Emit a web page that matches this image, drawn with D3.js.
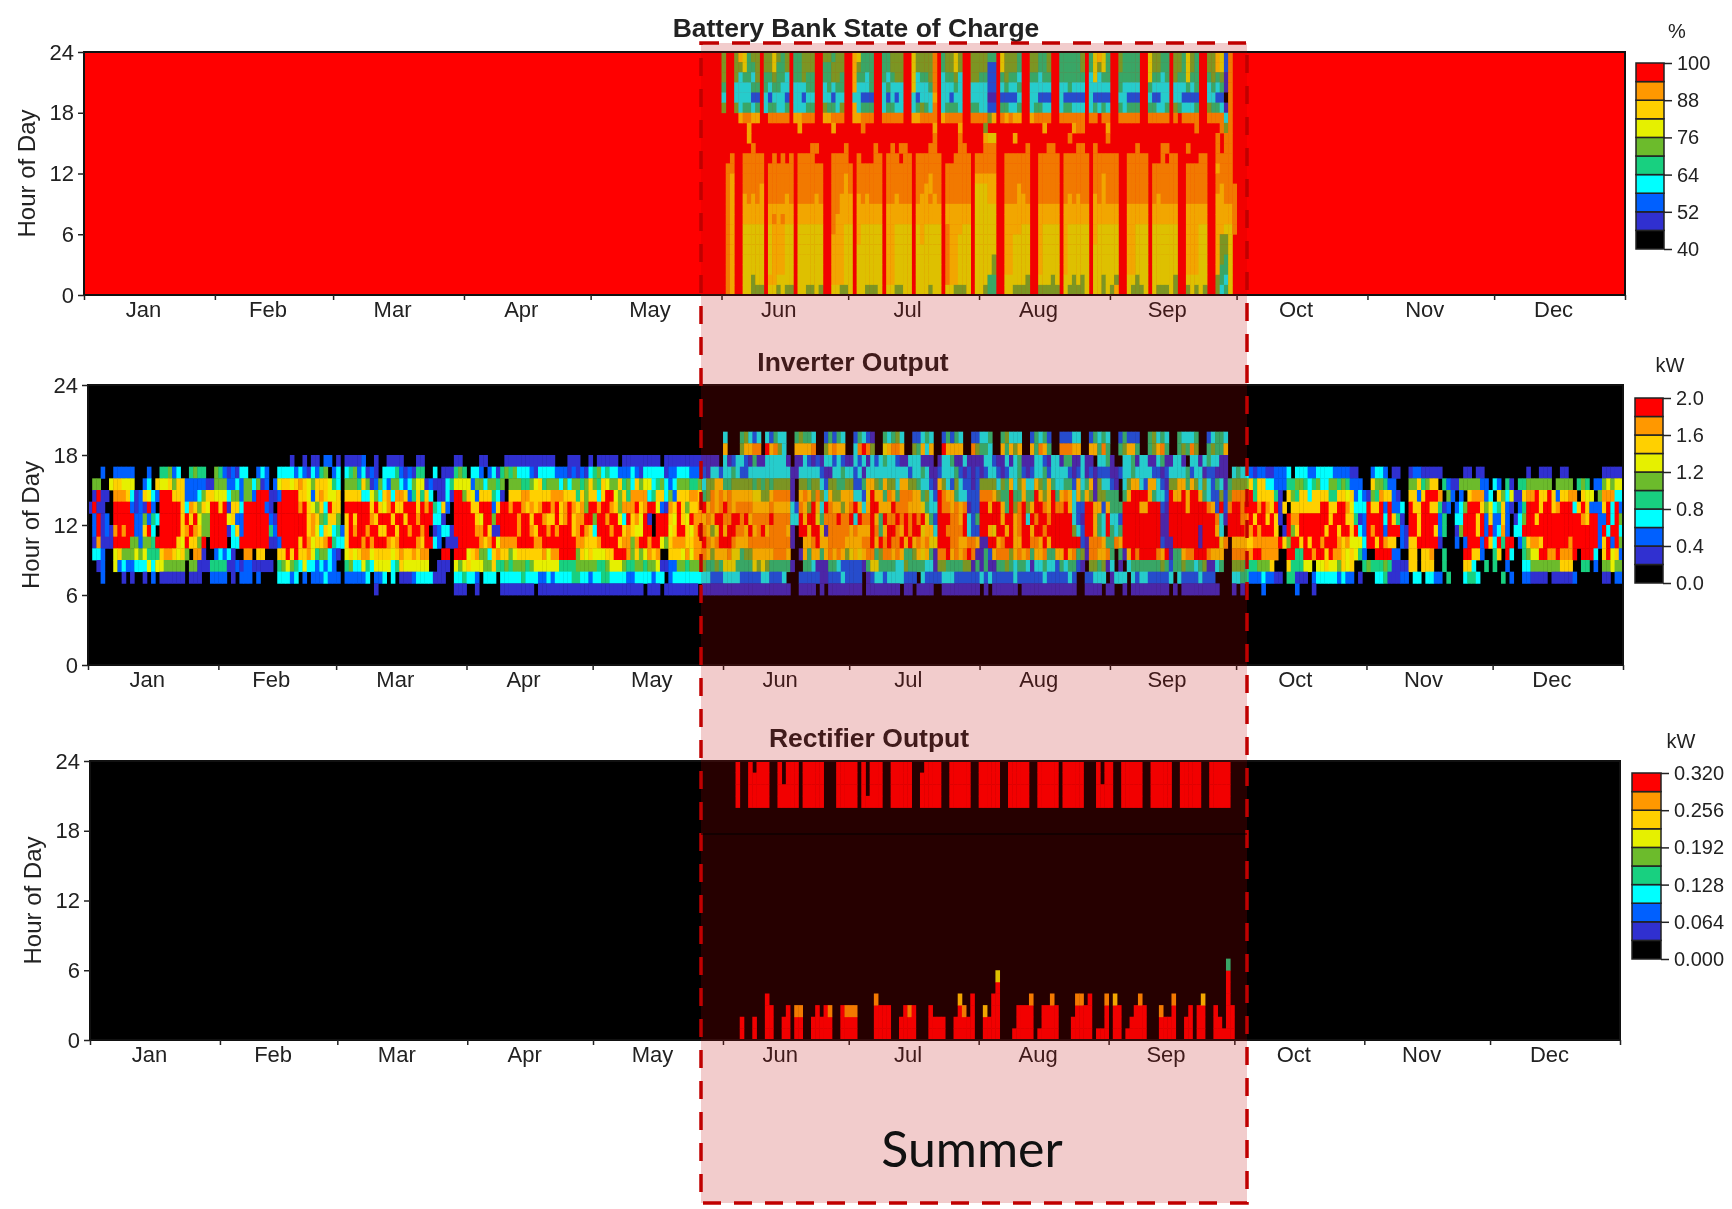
<!DOCTYPE html>
<html>
<head>
<meta charset="utf-8">
<script src="https://cdn.jsdelivr.net/npm/d3@7"></script>
<style>
  html, body { margin: 0; padding: 0; background: #fff; }
  text { font-family: "Liberation Sans", Arial, sans-serif; fill: #222; }
</style>
</head>
<body>
<div id="chart"></div>
<script>
const monthNames = ["Jan","Feb","Mar","Apr","May","Jun","Jul","Aug","Sep","Oct","Nov","Dec"];
const monthStarts = [0,31,59,90,120,151,181,212,243,273,304,334,365];
const hourTicks = [0,6,12,18,24];

// legend colours, lowest bin first
const binColors = ["#000000","#3030d0","#0060ff","#00ffff","#18d080","#6cbb2c","#e6f000","#ffd000","#ff9800","#ff0000"];

const socTicks = [40,52,64,76,88,100];
const socLabels = ["40","52","64","76","88","100"];
const inverterTicks = [0,0.4,0.8,1.2,1.6,2];
const inverterLabels = ["0.0","0.4","0.8","1.2","1.6","2.0"];
const rectifierTicks = [0,0.064,0.128,0.192,0.256,0.32];
const rectifierLabels = ["0.000","0.064","0.128","0.192","0.256","0.320"];

// Battery state of charge, colour bin per day from day 151 to 272, one string per hour from 23 down to 0.
// The rest of the year is at 100 %.
const socFirstDay = 151;
const socRows = [
"5 99 576455 9 556545 9 44555 99 55455 99 76444 99 44555 99 655558 9 45565 99 555544 9 65554 99 55445 99 444445 9 46764 99 54444 99 65544 9 554654 99 557628 9",
"5 99 556445 9 556445 9 44555 99 44555 99 75444 99 44555 99 655558 9 45565 99 555522 9 65554 99 55445 99 444445 9 46564 99 54444 99 65544 9 554654 99 557628 9",
"5 99 534435 9 445443 9 44544 99 44554 99 74434 99 43455 99 634458 9 34453 99 554422 9 45443 99 44344 99 444444 9 36344 99 44444 99 64434 9 544644 99 454518 9",
"4 99 333344 9 434433 9 33344 99 34344 99 73334 99 34333 99 633348 9 33343 99 333322 9 34334 99 33333 99 334333 9 33333 99 43333 99 43333 9 333434 99 343418 9",
"3 99 333322 9 323332 9 33233 99 33233 99 33222 99 32323 99 323337 9 33233 99 333311 9 22223 99 33222 99 322222 9 32222 99 33222 99 32233 9 332222 99 332208 9",
"5 99 534434 9 344334 9 33344 99 54435 99 73444 99 34433 99 345438 9 34443 99 443322 9 44334 99 34433 99 344333 9 34343 99 43444 99 44334 9 543334 99 544318 9",
"9 99 978877 9 988888 9 77888 99 77888 99 77888 99 88888 99 778888 9 78888 99 888857 9 87877 99 78888 99 888888 9 88988 99 88888 99 88888 9 898888 99 888838 9",
"9 99 999799 9 999999 9 97999 99 99799 99 99899 99 99999 99 999997 9 99997 99 999599 9 99999 99 99979 99 999788 9 99997 99 99999 99 99999 9 999998 99 999858 9",
"9 99 999799 9 999999 9 99999 99 99999 99 99999 99 99999 99 999998 9 99998 99 999766 9 99979 99 99999 99 998999 9 99998 99 99999 99 99999 9 999999 99 998988 9",
"9 99 99 99899 9 999999 9 999889 99 99989 9 999989 9 989889 9 999889 9 999889 9 99888 99 999998 99 99889 9 999889 9 899999 99 99899 9 998899 99 89999 99 8988 9",
"9 98 99 88888 9 989898 9 888899 99 88889 9 899988 9 888988 9 888888 9 998888 9 88888 99 888888 99 88888 9 888888 9 888888 99 88888 9 998988 99 99988 99 8888 9",
"9 88 99 88888 9 888888 9 888888 99 88888 9 888888 9 888888 9 888888 9 888888 9 88888 99 888888 99 88888 9 888888 9 888888 99 88888 9 888888 99 88888 99 7888 9",
"9 87 99 88888 9 888888 9 888888 99 88878 9 888888 9 888888 9 888788 9 888888 9 77777 99 888888 99 88888 9 888888 9 887888 99 88888 9 888888 99 88888 99 8888 9",
"9 87 99 88887 9 888888 9 888888 99 88878 9 888888 9 888888 9 887788 9 888888 9 66677 99 888788 99 88888 9 888888 9 887888 99 88888 9 888888 99 88888 99 8788 8",
"9 87 99 78787 9 888878 9 888878 99 88777 9 787888 9 887888 9 877878 9 888888 9 66677 99 888778 99 88888 9 878788 9 787888 99 88888 9 878888 99 88888 99 7788 8",
"9 87 99 77777 9 777777 9 777777 99 88777 9 777777 9 777777 9 777777 9 777777 9 66666 99 777777 99 77777 9 777777 9 777777 99 77777 9 777777 99 77777 99 7777 8",
"9 87 99 77777 9 787877 9 777777 99 87777 9 777777 9 777777 9 777777 9 777777 9 66666 99 777777 99 77777 9 777777 9 777777 99 77777 9 777777 99 77777 99 7777 8",
"9 87 99 66666 9 677766 9 666666 99 87766 9 766666 9 776666 9 676666 9 877766 9 66666 99 777766 99 76666 9 766666 9 766666 99 77666 9 666666 99 77766 99 7766 8",
"9 87 99 66666 9 677766 9 666666 99 77766 9 766666 9 776666 9 676666 9 877666 9 66666 99 776666 99 76666 9 766666 9 766666 99 77666 9 666666 99 77766 99 7556 9",
"9 87 99 66666 9 677766 9 666666 99 77766 9 666666 9 776666 9 666666 9 877666 9 66666 99 776666 99 76666 9 766666 9 666666 99 77666 9 666666 99 77766 99 7556 9",
"9 87 99 66666 9 677766 9 666666 99 77766 9 666666 9 776666 9 666666 9 877666 9 66665 99 776666 99 76666 9 766666 9 666666 99 77666 9 666666 99 77766 99 7546 9",
"9 87 99 66666 9 677766 9 666666 99 77766 9 666666 9 776666 9 666666 9 877666 9 66665 99 776666 99 76666 9 766666 9 666666 99 77666 9 666666 99 77766 99 7446 9",
"9 87 99 66566 9 776666 9 666666 99 77766 9 666666 9 776666 9 666666 9 877666 9 66644 99 666665 99 66656 9 665656 9 665665 99 66566 9 666665 99 66666 99 5436 9",
"9 87 99 66555 9 665655 9 665565 99 66556 9 665556 9 665566 9 666566 9 665556 9 66544 99 665555 99 55555 9 655556 9 665657 99 65556 9 655565 99 56565 99 5346 9"
];

// Inverter output, colour bin per day of the year (groups of ten), one string per hour from 19 down to 6.
// Hours outside that band are zero all year.
const inverterTopHour = 19;
const inverterRows = [
"0000000000 0000000000 0000000000 0000000000 0000000000 0000000000 0000000000 0000000000 0000000000 0000000000 0000000000 0000000000 0000000000 0000000000 0000000000 0 3 000 45323 0 32433 00 45443 00 24243 00 24321 00 43453 00 22343 00 24243 00 22334 00 45333 00 24342 00 22233 00 24343 00 24222 00 45343 00 43334 00 23443 00 0000000 0000000000 0000000000 0000000000 0000000000 0000000000 0000000000 0000000000 0000000000 00000",
"0000000000 0000000000 0000000000 0000000000 0000000000 0000000000 0000000000 0000000000 0000000000 0000000000 0000000000 0000000000 0000000000 0000000000 0000000000 0 7 000 57788 0 97853 00 77778 00 57877 00 38985 00 67887 00 54737 00 97777 00 85443 00 74757 00 74874 00 88877 00 77484 00 45774 00 45784 00 45485 00 45447 00 0000000 0000000000 0000000000 0000000000 0000000000 0000000000 0000000000 0000000000 0000000000 00000",
"0000000000 0000000000 0000000000 0000000000 0000000010 0101102201 0111120010 0111100011 0000000110 0001100001 1111111111 1000111001 0111110111 1111110111 1111111111 0312332141 1333331011 3212133232 1132313234 3321133311 1013341131 1113321131 3411133213 3144113110 3341003341 3311341133 1033134331 1000000000 0000000000 0000000000 0000000000 0000000000 0000000000 0000000000 0000000000 0000000000 00000",
"0002002222 2000200445 2300454400 5421213300 2320033332 3213245023 0345231210 3334212144 0030111454 0332023145 4533321333 3222121213 4534332223 2133333122 3332222133 2334322333 3333333113 3333211334 3323133333 3333323343 1123334212 1212332123 3421233423 3332123121 2221123343 3332212333 3423312211 1034332122 1122230333 2233332222 1100023320 1100122111 1100000110 1100000000 0010011100 1100000000 11111",
"0550067766 6002307667 5772222211 5552232553 5120267767 8765777643 0555475125 3255323566 1211134666 6255355450 5554456745 5535355457 5476557453 7566345323 5554453557 7445555545 4545555105 5455325544 5522477547 5537755433 2175325322 1255553547 3573375474 3344273471 5332103577 3277321557 7475353243 1455557477 3322244554 3453355454 2220075542 2000557457 7042115555 5220320410 4455555505 5550454022 56566",
"0191108887 3127632999 7772223577 6663552552 9991129999 7762787667 0777733653 7838872474 7301131995 7627774310 7778877777 8887774757 7379965748 8883477352 7778874587 8787777766 5578888107 8758537557 7733269774 8748887745 3298774332 2288875449 4474497579 4787374751 5544404799 9974332977 9799743225 2588889477 7741075477 3777744776 7232154877 2100772799 9805202078 8823075361 1788977972 7788076605 88833",
"1911009999 2121920999 9973875769 9791773999 9921099999 8976573977 0999999797 6897799979 8943720999 9779992799 8998787899 8978987859 9899875888 9789962187 9757789787 8987888877 7787777328 7597398775 7897379977 7988877764 3398878781 2299799749 5895799879 8897322997 7274449999 7799921999 9799998729 2899899989 8791707777 7779977998 6333977929 2230977997 7412023599 9756347210 2499979978 9993797222 79392",
"0291209999 9225243999 9979796559 9996722999 9992199999 9978754775 0797999879 9979979989 9933100999 9976995999 9989979987 7978978899 5998996397 8691099976 9769887879 9889989788 8898888339 7996488898 8939889749 8898989896 4299988793 2499999799 7893989989 9999321997 4393329999 9999911999 9999999983 1999889799 7971098899 9999979997 7412999939 7410997999 9240033999 7927227201 3599799999 9999987992 29395",
"0291218989 9227930999 9978987559 9991372999 9994299999 9978637634 2798998997 7997998998 9012331999 9988971199 9989987998 9899978987 3999899787 6699099967 9976898756 9799887978 9788887109 9799618888 8787779847 9987989967 7399888893 2299769979 7899799899 9999532997 4394349999 9999911999 9999199973 0999988989 9970195799 9999799799 7932989929 9921997999 7240015999 7929238203 3999999999 9999999992 93993",
"0181119999 5525549999 9769775909 9990339999 9991129999 7986778943 3799989899 9878999987 9932011199 9998789688 8899998899 9999998877 7899997885 8998996578 8877889878 9998777888 8888888100 7789778888 7777889798 9889797878 6699988778 8711997899 7799887979 9999992188 8744879999 9999921199 9999199996 8077777888 8889759979 7998999878 6663997987 7021779999 9100020299 9297394990 2478879999 9989999992 79295",
"0332006755 5656444788 7675088100 2323100880 7700077979 7786455321 0676788677 7767877878 8000990999 6785537877 5677777786 8899995767 6667799985 7568780077 7686888757 7786645577 7778887001 7477478787 5676788458 8787445767 4188978789 8114278885 7878477844 7797845188 7784041798 9999879144 7889998777 0088888998 8880099449 9899798876 7642009999 2200770778 0040000997 7200470930 0456699889 8889099930 79672",
"0012006232 2333636655 5550551114 4441121221 1111045654 3633232320 0453364366 6634766666 6001110656 7666557445 4555456666 6644445555 5445666544 5545561122 5545555445 4666444465 6544444100 4431114432 2222146644 4433544443 3155444455 1414114454 3443133433 2434421055 4513010344 4444454244 5443451134 0055544455 5700074446 6066766576 7004544454 1111770777 0040000773 0040400200 0335555555 7770044020 55655",
"0002000010 1001020111 1110111002 2220102220 2000033323 0202223222 0222223022 3030111233 3311100334 3320333033 3334333223 2333344332 3344333322 3333233023 3333333322 2333322222 3322230002 2222112223 2222012332 3333222032 2223332222 2232322222 3222222322 2223200223 3301333032 3322222303 2222322200 0033442223 2211044111 0233333232 2010003341 1122033033 2204000344 3000004020 0221111011 1112000000 11022",
"0000000000 0000000000 0000000000 0000000000 0000000000 0000000000 0000000010 0000000000 0000000111 0010000011 1111110111 1111111111 1111111111 1101110111 1111101111 1111111111 1111111001 1110101111 1111011111 1110110111 1001111111 1101011111 1011111111 1111100111 1011001011 1111111010 1111111110 0010100002 0000000200 0100000000 0000000000 0000000000 0000000000 0000000000 0000000000 0000000000 00000"
];

// Rectifier output, days 151 to 272. Evening block: one string per hour from 23 down to 20.
const rectifierFirstDay = 151;
const rectifierEveningTopHour = 23;
const rectifierEveningRows = [
"000 9 00 90999 00 90999 0 99999 000 99999 0 90999 00 99999 00 09999 00 99999 00 99999 00 99999 00 99999 0 99999 000 9099 00 99999 00 99999 00 99999 00 99999 0",
"000 9 00 99999 00 90999 0 99999 000 99999 0 90999 00 99999 00 99999 00 99999 00 99999 00 99999 00 99999 0 99999 000 9099 00 99999 00 99999 00 99999 00 99999 0",
"000 9 00 99999 00 99999 0 99999 000 99999 0 90999 00 99999 00 99999 00 99999 00 99999 00 99999 00 99999 0 99999 000 9999 00 99999 00 99999 00 99999 00 99999 0",
"000 9 00 99999 00 99999 0 99999 000 99999 0 99999 00 99999 00 99999 00 99999 00 99999 00 99999 00 99999 0 99999 000 9999 00 99999 00 99999 00 99999 00 99999 0"
];
// Early morning: hours from 0 at full output for each day, then the bin of the cell on top (0 = none).
const rectifierMorningHours = [
  0,0,0,0,2,0,0,2,0,0, 4,3,0,0,2,3,0,2,2,0, 0,2,3,2,3,2,0,0,3,2, 2,2,0,0,0,0,3,3,3,3,
  0,0,2,3,2,3,0,0,0,3, 2,2,2,0,0,2,3,2,2,4, 0,0,2,2,4,5,0,0,0,1, 3,3,3,3,0,1,3,3,3,3,
  0,0,0,2,3,3,3,4,0,1, 1,3,0,3,3,0,1,2,3,3, 3,0,0,0,2,2,2,3,0,0, 2,3,0,3,3,0,0,3,2,1, 6,3
];
const rectifierMorningCap = [
  0,0,0,0,0,0,0,0,0,0, 0,0,0,0,0,0,0,8,8,0, 0,0,0,0,0,8,0,0,0,8, 8,8,0,0,0,0,8,0,0,0,
  0,0,0,0,8,0,0,0,0,0, 0,0,0,0,0,0,7,8,0,0, 0,0,7,0,0,6,0,0,0,0, 0,0,0,8,0,0,0,0,8,0,
  0,0,0,0,8,8,0,0,0,0, 0,8,0,7,0,0,0,0,0,8, 0,0,0,0,8,0,0,8,0,0, 0,0,0,0,7,0,0,0,0,0, 4,0
];

const svgWidth = 1732;
const svgHeight = 1209;

const svg = d3.select("#chart").append("svg")
    .attr("width", svgWidth)
    .attr("height", svgHeight);

// turn a colour bin into a value of that panel's range
function binValue(bin, domain) {
    return domain[0] + (bin + 0.5) * (domain[1] - domain[0]) / binColors.length;
}

function rowCells(rows, topHour, firstDay, domain) {
    const cells = [];
    rows.forEach((row, i) => {
        Array.from(row.replace(/\s/g, "")).forEach((ch, j) => {
            cells.push({ day: firstDay + j, hour: topHour - i, value: binValue(+ch, domain) });
        });
    });
    return cells;
}

function drawPanel(p) {
    const x = d3.scaleLinear().domain([0, 365]).range([p.left, p.right]);
    const y = d3.scaleLinear().domain([0, 24]).range([p.bottom, p.top]);
    const color = d3.scaleQuantize().domain(p.domain).range(binColors);

    // the source is a soft bitmap
    const g = svg.append("g").style("filter", "blur(0.6px)");

    g.append("rect")
        .attr("x", p.left).attr("y", p.top)
        .attr("width", p.right - p.left).attr("height", p.bottom - p.top)
        .attr("fill", color(p.background));

    g.append("g").selectAll("rect")
        .data(p.cells.filter(d => color(d.value) !== color(p.background)))
        .join("rect")
        .attr("x", d => x(d.day))
        .attr("y", d => y(d.hour + 1))
        .attr("width", d => x(d.day + 1) - x(d.day) + 0.4)
        .attr("height", d => y(d.hour) - y(d.hour + 1) + 0.4)
        .attr("fill", d => color(d.value));

    g.append("rect")
        .attr("x", p.left).attr("y", p.top)
        .attr("width", p.right - p.left).attr("height", p.bottom - p.top)
        .attr("fill", "none").attr("stroke", "#111").attr("stroke-width", 2);

    // hour axis
    const yAxis = g.append("g")
        .attr("transform", `translate(${p.left}, 0)`)
        .call(d3.axisLeft(y).tickValues(hourTicks).tickSize(6).tickPadding(4));
    yAxis.select(".domain").remove();
    yAxis.selectAll("line").attr("stroke", "#222").attr("stroke-width", 1.5);
    yAxis.selectAll("text").style("font-size", "22px").attr("fill", "#222");

    // month ticks sit on the month starts, month names in between
    const xTicks = g.append("g")
        .attr("transform", `translate(0, ${p.bottom})`)
        .call(d3.axisBottom(x).tickValues(monthStarts).tickSize(5).tickFormat(""));
    xTicks.select(".domain").remove();
    xTicks.selectAll("line").attr("stroke", "#222").attr("stroke-width", 1.5);

    const mids = monthNames.map((m, i) => (monthStarts[i] + monthStarts[i + 1]) / 2);
    const xLabels = g.append("g")
        .attr("transform", `translate(${p.labelShift}, ${p.bottom})`)
        .call(d3.axisBottom(x).tickValues(mids).tickSize(0).tickPadding(p.monthPad)
            .tickFormat((d, i) => monthNames[i]));
    xLabels.select(".domain").remove();
    xLabels.selectAll("text").style("font-size", "22px").attr("fill", "#222");

    g.append("text")
        .attr("transform", `translate(${p.yTitleX}, ${(p.top + p.bottom) / 2}) rotate(-90)`)
        .attr("text-anchor", "middle")
        .style("font-size", "24px")
        .text("Hour of Day");

    g.append("text")
        .attr("x", p.titleX).attr("y", p.titleY)
        .attr("text-anchor", "middle")
        .style("font-size", "26.5px").style("font-weight", "bold")
        .text(p.title);

    drawLegend(p, color);
}

function drawLegend(p, color) {
    const l = p.legend;
    const ly = d3.scaleLinear().domain(p.domain).range([l.bottom, l.top]);
    const g = svg.append("g").style("filter", "blur(0.6px)");
    const step = (p.domain[1] - p.domain[0]) / binColors.length;

    g.selectAll("rect")
        .data(binColors)
        .join("rect")
        .attr("x", l.left)
        .attr("y", (d, i) => ly(p.domain[0] + (i + 1) * step))
        .attr("width", l.right - l.left)
        .attr("height", (l.bottom - l.top) / binColors.length)
        .attr("fill", d => d)
        .attr("stroke", "#222")
        .attr("stroke-width", 1.5);

    const axis = g.append("g")
        .attr("transform", `translate(${l.right}, 0)`)
        .call(d3.axisRight(ly).tickValues(p.ticks).tickSize(8).tickPadding(5)
            .tickFormat((d, i) => p.tickLabels[i]));
    axis.select(".domain").remove();
    axis.selectAll("line").attr("stroke", "#222").attr("stroke-width", 1.5);
    axis.selectAll("text").style("font-size", "20px").attr("fill", "#222");

    g.append("text")
        .attr("x", l.unitX).attr("y", l.unitY)
        .attr("text-anchor", "middle")
        .style("font-size", "20px")
        .text(p.unit);
}

// ------- PANELS ---------
const socDomain = [40, 100];
const inverterDomain = [0, 2];
const rectifierDomain = [0, 0.32];

drawPanel({
    title: "Battery Bank State of Charge", titleX: 856, titleY: 37,
    left: 84, right: 1625, top: 52, bottom: 295,
    labelShift: -6.5, monthPad: 6, yTitleX: 35,
    domain: socDomain, background: 100, unit: "%",
    ticks: socTicks, tickLabels: socLabels,
    cells: rowCells(socRows, 23, socFirstDay, socDomain),
    legend: { left: 1636, right: 1664, top: 63, bottom: 249, unitX: 1677, unitY: 38 }
});

drawPanel({
    title: "Inverter Output", titleX: 853, titleY: 371,
    left: 88, right: 1623, top: 385, bottom: 665,
    labelShift: -6.5, monthPad: 6, yTitleX: 39,
    domain: inverterDomain, background: 0, unit: "kW",
    ticks: inverterTicks, tickLabels: inverterLabels,
    cells: rowCells(inverterRows, inverterTopHour, 0, inverterDomain),
    legend: { left: 1635, right: 1663, top: 398, bottom: 583, unitX: 1670, unitY: 372 }
});

const morningCells = [];
rectifierMorningHours.forEach((n, i) => {
    d3.range(n).forEach(h => {
        morningCells.push({ day: rectifierFirstDay + i, hour: h, value: binValue(9, rectifierDomain) });
    });
    if (rectifierMorningCap[i] > 0) {
        morningCells.push({ day: rectifierFirstDay + i, hour: n, value: binValue(rectifierMorningCap[i], rectifierDomain) });
    }
});

drawPanel({
    title: "Rectifier Output", titleX: 869, titleY: 747,
    left: 90, right: 1620, top: 761, bottom: 1040,
    labelShift: -6, monthPad: 6, yTitleX: 41,
    domain: rectifierDomain, background: 0, unit: "kW",
    ticks: rectifierTicks, tickLabels: rectifierLabels,
    cells: rowCells(rectifierEveningRows, rectifierEveningTopHour, rectifierFirstDay, rectifierDomain).concat(morningCells),
    legend: { left: 1632, right: 1661, top: 773, bottom: 959, unitX: 1681, unitY: 748 }
});

// ------- SUMMER BOX ---------
const box = { x: 701, y: 43, width: 546, height: 1160 };

svg.append("rect")
    .attr("x", box.x).attr("y", box.y)
    .attr("width", box.width).attr("height", box.height)
    .attr("fill", "rgb(190, 0, 0)").attr("fill-opacity", 0.2)
    .attr("stroke", "#c00000").attr("stroke-width", 3.5)
    .attr("stroke-dasharray", "18 13");

svg.append("line")
    .attr("x1", box.x).attr("x2", box.x + box.width)
    .attr("y1", 834).attr("y2", 834)
    .attr("stroke", "#000").attr("stroke-width", 1);

svg.append("text")
    .attr("x", 972).attr("y", 1167)
    .attr("text-anchor", "middle")
    .style("font-family", "Lato, sans-serif")
    .style("font-size", "50px")
    .style("fill", "#111")
    .text("Summer");
</script>
</body>
</html>
